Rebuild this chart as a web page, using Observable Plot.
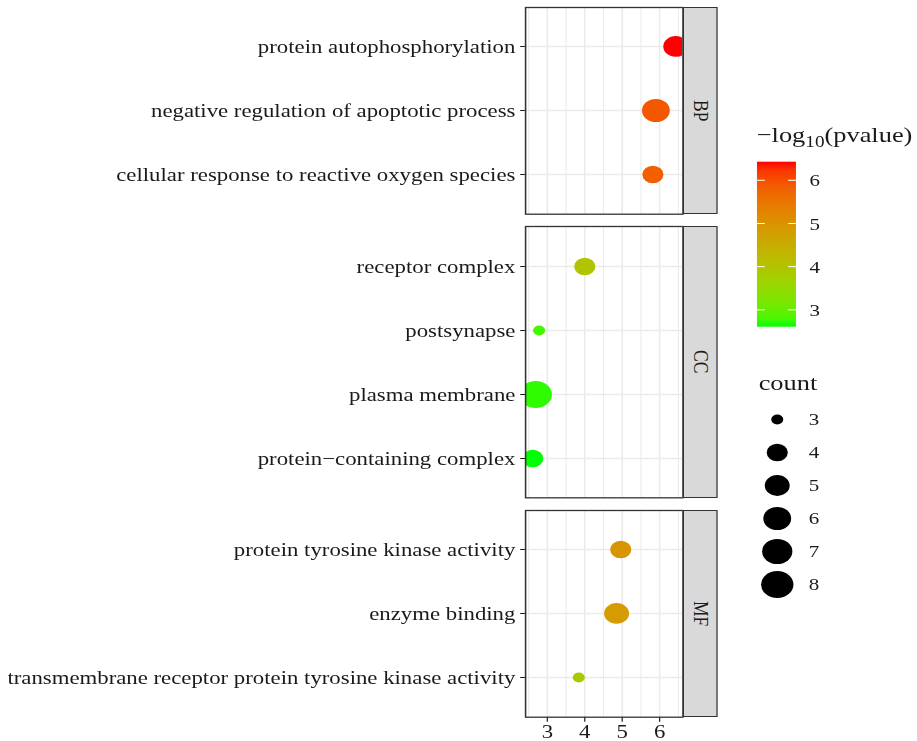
<!DOCTYPE html>
<html><head><meta charset="utf-8">
<script src="https://cdn.jsdelivr.net/npm/d3@7"></script>
<script src="https://cdn.jsdelivr.net/npm/@observablehq/plot@0.6"></script>
<style>
html,body{margin:0;padding:0;background:#fff;}
#root{position:relative;width:764px;height:741px;transform:scaleX(1.2);transform-origin:0 0;font-family:"Liberation Serif",serif;overflow:visible;}
#root > *{position:absolute;}
.strip{background:#d9d9d9;border:1.3px solid #333;box-sizing:border-box;display:flex;align-items:center;justify-content:center;}
.strip span{writing-mode:vertical-rl;font-size:17.5px;color:#1a1a1a;font-family:"Liberation Serif",serif;}
</style></head><body><div id="root"></div>
<script>
// ---- data ----
const ontologies = ["BP", "CC", "MF"];
const terms = [
  "protein autophosphorylation",
  "negative regulation of apoptotic process",
  "cellular response to reactive oxygen species",
  "receptor complex",
  "postsynapse",
  "plasma membrane",
  "protein\u2212containing complex",
  "protein tyrosine kinase activity",
  "enzyme binding",
  "transmembrane receptor protein tyrosine kinase activity"
];
const termOntology = ["BP","BP","BP","CC","CC","CC","CC","MF","MF","MF"];
const logP = [6.43, 5.90, 5.82, 4.00, 2.78, 2.69, 2.61, 4.96, 4.85, 3.84];
const counts = [5, 6, 4, 4, 3, 8, 4, 4, 5, 3];
const xTicks = [3, 4, 5, 6];
const xMinorTicks = [2.5, 3.5, 4.5, 5.5, 6.5];
const colorBreaks = [3, 4, 5, 6];
const sizeBreaks = [3, 4, 5, 6, 7, 8];

const data = terms.map((t, i) => ({term: t, ontology: termOntology[i], logp: logP[i], count: counts[i]}));

// ---- scales ----
const [pLo, pHi] = d3.extent(logP);
const pad = (pHi - pLo) * 0.05;
const xDomain = [pLo - pad, pHi + pad];
const [cLo, cHi] = d3.extent(counts);
const colorOpts = {type: "linear", domain: [pLo, pHi], range: ["#00ff00", "#ff0000"], interpolate: d3.interpolateLab};
const rOpts = {type: "sqrt", transform: c => c - cLo, domain: [0, cHi - cLo], range: [5, 13.5]};

const root = document.getElementById("root");
const font = {fontFamily: "Liberation Serif, serif", background: "transparent", color: "#1a1a1a", overflow: "visible"};

// ---- panels ----
const unit = 64.6, top0 = 7, gap = 12.5;
const panelLeft = 437.5, panelRight = 568.6, stripW = 29.7;
let y0 = top0;
ontologies.forEach((f, k) => {
  const rows = data.filter(d => d.ontology === f);
  const h = (rows.length - 1 + 1.2) * unit;
  const isLast = k === ontologies.length - 1;
  const mt = 2, mb = isLast ? 30 : 2;
  const plot = Plot.plot({
    width: panelRight + 1, height: h + mt + mb,
    marginLeft: panelLeft, marginRight: 1, marginTop: mt, marginBottom: mb,
    style: {...font, fontSize: "19px"},
    x: {domain: xDomain, ticks: xTicks, tickFormat: d => String(d), tickSize: 5, tickPadding: 2.5, label: null, axis: isLast ? "bottom" : null},
    y: {type: "point", domain: rows.map(d => d.term), padding: 0.6, tickSize: 4, tickPadding: 4.5, label: null},
    color: colorOpts,
    r: rOpts,
    marks: [
      Plot.ruleX(xMinorTicks, {stroke: "#ebebeb", strokeWidth: 0.9}),
      Plot.ruleX(xTicks, {stroke: "#ebebeb", strokeWidth: 1.3}),
      Plot.ruleY(rows, {y: "term", stroke: "#ebebeb", strokeWidth: 1.3}),
      Plot.dot(rows, {x: "logp", y: "term", r: "count", fill: "logp", clip: true}),
      Plot.frame({stroke: "#333", strokeWidth: 1.3})
    ]
  });
  plot.style.left = "0px";
  plot.style.top = (y0 - mt) + "px";
  root.appendChild(plot);
  const strip = document.createElement("div");
  strip.className = "strip";
  strip.style.left = panelRight + "px";
  strip.style.top = y0 + "px";
  strip.style.width = stripW + "px";
  strip.style.height = h + "px";
  const sp = document.createElement("span");
  sp.textContent = f;
  strip.appendChild(sp);
  root.appendChild(strip);
  y0 += h + gap;
});

// ---- colour legend ----
const cl = d3.create("svg").attr("width", 150).attr("height", 230)
  .style("left", "620px").style("top", "110px").style("overflow", "visible")
  .style("font-family", "Liberation Serif, serif");
const title = cl.append("text").attr("x", 10.6).attr("y", 31.7).attr("font-size", 22).attr("fill", "#1a1a1a");
title.append("tspan").text("\u2212log");
title.append("tspan").attr("dy", 5).attr("font-size", 16).text("10");
title.append("tspan").attr("dy", -5).text("(pvalue)");
const cscale = d3.scaleLinear().domain([pLo, pHi]).range(["#00ff00", "#ff0000"]).interpolate(d3.interpolateLab);
const grad = cl.append("defs").append("linearGradient").attr("id", "cgrad")
  .attr("x1", 0).attr("y1", 1).attr("x2", 0).attr("y2", 0);
d3.range(0, 1.0001, 0.05).forEach(t => {
  grad.append("stop").attr("offset", t).attr("stop-color", cscale(pLo + t * (pHi - pLo)));
});
const barX = 10.8, barW = 32.5;
const cy = d3.scaleLinear().domain([pLo, pHi]).range([216.7, 51.7]);
cl.append("rect").attr("x", barX).attr("y", 51.7).attr("width", barW).attr("height", 165).attr("fill", "url(#cgrad)");
colorBreaks.forEach(v => {
  cl.append("line").attr("x1", barX).attr("x2", barX + 6.5).attr("y1", cy(v)).attr("y2", cy(v)).attr("stroke", "#fff").attr("stroke-width", 1);
  cl.append("line").attr("x1", barX + barW - 6.5).attr("x2", barX + barW).attr("y1", cy(v)).attr("y2", cy(v)).attr("stroke", "#fff").attr("stroke-width", 1);
  cl.append("text").attr("x", 54.5).attr("y", cy(v)).attr("dy", "0.35em").attr("font-size", 17.5).attr("fill", "#1a1a1a").text(v);
});
root.appendChild(cl.node());

// ---- size legend ----
const sl = Plot.plot({
  width: 150, height: 240, margin: 0,
  style: {...font, fontSize: "17.5px"},
  x: {domain: [0, 1], axis: null},
  y: {type: "point", domain: sizeBreaks, range: [58, 224], padding: 0, axis: null},
  r: rOpts,
  marks: [
    Plot.text(["count"], {text: d => d, frameAnchor: "top-left", dx: 11.7, dy: 14, fontSize: 22, textAnchor: "start"}),
    Plot.dot(sizeBreaks, {y: d => d, r: d => d, fill: "black", frameAnchor: "left", dx: 27.2}),
    Plot.text(sizeBreaks, {y: d => d, text: d => d, frameAnchor: "left", dx: 53.5, textAnchor: "start"})
  ]
});
sl.style.left = "620px";
sl.style.top = "360px";
root.appendChild(sl);
</script>
</body></html>
